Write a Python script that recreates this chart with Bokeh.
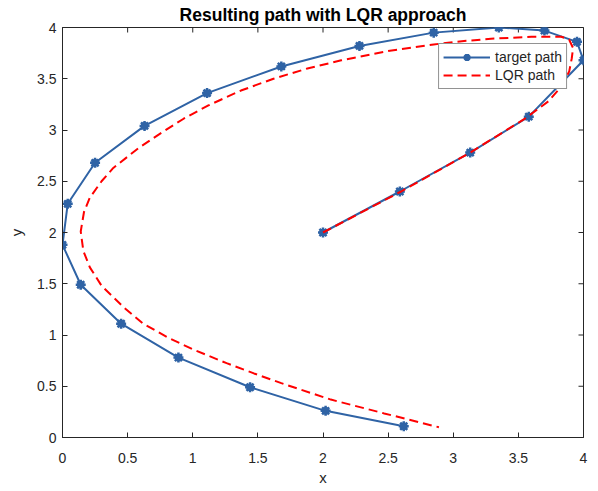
import math
from bokeh.plotting import figure
from bokeh.models import FixedTicker, Range1d, Legend, LegendItem
from bokeh.embed import file_html
from bokeh.resources import INLINE

# ---- data ----
target_x = [2.00, 2.59, 3.13, 3.58, 4.00, 3.95, 3.70, 3.35, 2.85, 2.28, 1.68,
            1.11, 0.63, 0.25, 0.04, 0.00, 0.14, 0.45, 0.89, 1.44, 2.02, 2.62]
target_y = [2.00, 2.40, 2.78, 3.13, 3.68, 3.86, 3.97, 4.00, 3.95, 3.82, 3.62,
            3.36, 3.04, 2.68, 2.28, 1.88, 1.49, 1.11, 0.78, 0.49, 0.26, 0.11]

lqr_x = [2.00, 2.60, 3.13, 3.55, 3.73, 3.82, 3.89, 3.91, 3.92, 3.89,
         3.83, 3.60, 3.29, 3.10, 2.85, 2.50, 2.14, 1.88, 1.62, 1.37,
         1.12, 0.93, 0.75, 0.58, 0.39, 0.30, 0.21, 0.165, 0.14, 0.16,
         0.21, 0.30, 0.47, 0.62, 0.81, 1.01, 1.26, 1.47, 1.68, 2.06,
         2.47, 2.89]
lqr_y = [2.00, 2.40, 2.78, 3.11, 3.28, 3.41, 3.57, 3.70, 3.80, 3.88,
         3.91, 3.91, 3.89, 3.87, 3.835, 3.77, 3.68, 3.60, 3.50, 3.385,
         3.24, 3.11, 2.965, 2.82, 2.63, 2.50, 2.34, 2.20, 2.01, 1.82,
         1.66, 1.48, 1.27, 1.11, 0.975, 0.855, 0.725, 0.625, 0.53, 0.37,
         0.235, 0.10]

x_ticks = [0.0, 0.5, 1.0, 1.5, 2.0, 2.5, 3.0, 3.5, 4.0]
x_tick_labels = ["0", "0.5", "1", "1.5", "2", "2.5", "3", "3.5", "4"]
y_ticks = [0.0, 0.5, 1.0, 1.5, 2.0, 2.5, 3.0, 3.5, 4.0]
y_tick_labels = ["0", "0.5", "1", "1.5", "2", "2.5", "3", "3.5", "4"]
x_limits = [0.0, 4.0]
y_limits = [0.0, 4.0]

title_text = "Resulting path with LQR approach"
x_label = "x"
y_label = "y"
series_names = ["target path", "LQR path"]

# ---- styles ----
FONT = "Liberation Sans"
AX = "#262626"
BLUE = "#2f63a5"
RED = "#ff0000"

p = figure(width=598, height=491, output_backend="svg", toolbar_location=None,
           x_range=Range1d(*x_limits), y_range=Range1d(*y_limits),
           min_border_left=62, min_border_right=15, min_border_top=26,
           min_border_bottom=54, title=title_text,
           x_axis_label=x_label, y_axis_label=y_label)

p.title.align = "center"
p.title.text_font = FONT
p.title.text_font_size = "17.5px"
p.title.text_font_style = "bold"
p.title.text_color = "#000000"
p.title.standoff = 5

p.xgrid.visible = False
p.ygrid.visible = False
p.outline_line_color = AX
p.outline_line_width = 1
p.background_fill_color = "white"
p.border_fill_color = "white"

def style_axis(ax, ticks, labels):
    ax.ticker = FixedTicker(ticks=ticks)
    ax.major_label_overrides = {t: l for t, l in zip(ticks, labels)}
    ax.minor_tick_line_color = None
    ax.major_tick_in = 5
    ax.major_tick_out = 0
    ax.axis_line_color = AX
    ax.major_tick_line_color = AX
    ax.major_label_text_color = AX
    ax.major_label_text_font = FONT
    ax.major_label_text_font_size = "14px"
    ax.axis_label_text_font = FONT
    ax.axis_label_text_font_style = "normal"
    ax.axis_label_text_color = AX
    ax.axis_label_text_font_size = "15px"

style_axis(p.xaxis[0], x_ticks, x_tick_labels)
style_axis(p.yaxis[0], y_ticks, y_tick_labels)
p.xaxis[0].major_label_standoff = 15
p.xaxis[0].axis_label_standoff = 3
p.yaxis[0].major_label_standoff = 6
p.yaxis[0].axis_label_standoff = 9
p.yaxis[0].major_label_orientation = "horizontal"

# mirrored inward ticks on the top and right edges (box on)
p.scatter(x_ticks, [y_limits[1]] * len(x_ticks), marker="dash", size=10,
          angle=math.pi / 2, line_color=AX, line_width=1)
p.scatter([x_limits[1]] * len(y_ticks), y_ticks, marker="dash", size=10,
          angle=0, line_color=AX, line_width=1)

# ---- glyphs ----
bl = p.line(target_x, target_y, line_color=BLUE, line_width=2)
bc = p.scatter(target_x, target_y, marker="circle", size=7,
               fill_color=BLUE, line_color=BLUE)
bs = p.scatter(target_x, target_y, marker="asterisk", size=10,
               line_color=BLUE, line_width=2.5)
rl = p.line(lqr_x, lqr_y, line_color=RED, line_width=2, line_dash="9 5")

legend = Legend(items=[LegendItem(label=series_names[0], renderers=[bl, bs]),
                       LegendItem(label=series_names[1], renderers=[rl])],
                location="top_right")
legend.margin = 16
legend.padding = 4
legend.spacing = 0
legend.glyph_width = 47
legend.glyph_height = 18
legend.label_height = 18
legend.label_standoff = 5
legend.label_text_font = FONT
legend.label_text_font_size = "14px"
legend.label_text_color = AX
legend.border_line_color = AX
legend.border_line_width = 1
legend.background_fill_color = "white"
legend.background_fill_alpha = 1.0
p.add_layout(legend)

open("out.html", "w").write(file_html(p, INLINE))
